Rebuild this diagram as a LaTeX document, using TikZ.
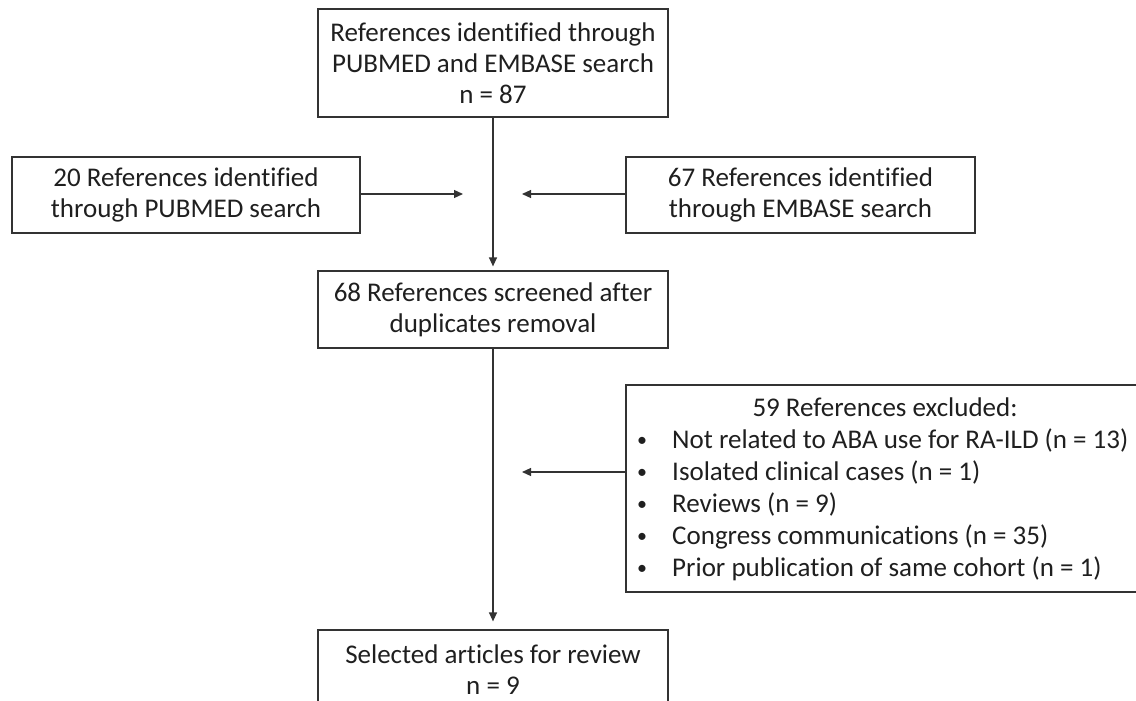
\documentclass[tikz,border=0pt]{standalone}
\usepackage{fontspec}
\setmainfont{Carlito}[Ligatures=NoCommon]
\usetikzlibrary{arrows.meta}
\definecolor{linec}{gray}{0.2}
\definecolor{textc}{gray}{0.12}
\tikzset{
  box/.style={draw=linec, line width=1.2pt, align=center, text=textc, inner sep=0pt,
    font=\fontsize{27}{31}\selectfont},
  arr/.style={draw=linec, line width=1.2pt, -{Triangle[length=9pt,width=8pt]}},
  txt/.style={text=textc, inner sep=0pt, anchor=base west, font=\fontsize{27}{31}\selectfont},
  bul/.style={text=textc, inner sep=0pt, anchor=base, font=\fontsize{20}{20}\selectfont},
}
\begin{document}
\begin{tikzpicture}[x=1pt,y=-1pt]
\useasboundingbox (0,0) rectangle (1136,701);
\clip (0,0) rectangle (1136,701);
\node[box, minimum width=350pt, minimum height=108pt] (top) at (493,63)
  {References identified through\\PUBMED and EMBASE search\\n = 87};
\node[box, minimum width=348pt, minimum height=76pt] (left) at (186,195)
  {20 References identified\\through PUBMED search};
\node[box, minimum width=349pt, minimum height=76pt] (right) at (800.5,195)
  {67 References identified\\through EMBASE search};
\node[box, minimum width=350pt, minimum height=77pt] (mid) at (493,309.5)
  {68 References screened after\\duplicates removal};
\node[box, minimum width=350pt, minimum height=80pt] (bot) at (493,670)
  {Selected articles for review\\n = 9};
\node[box, minimum width=524pt, minimum height=207pt] (excl) at (888,488.5) {};
\node[txt, anchor=base] (exT) at (885,416) {59 References excluded:};
\node[bul] (b1) at (642,446) {•};
\node[txt] (e1) at (672,448) {Not related to ABA use for RA-ILD (n = 13)};
\node[bul] (b2) at (642,478) {•};
\node[txt] (e2) at (672,480) {Isolated clinical cases (n = 1)};
\node[bul] (b3) at (642,510) {•};
\node[txt] (e3) at (672,512) {Reviews (n = 9)};
\node[bul] (b4) at (642,542) {•};
\node[txt] (e4) at (672,544) {Congress communications (n = 35)};
\node[bul] (b5) at (642,574) {•};
\node[txt] (e5) at (672,576) {Prior publication of same cohort (n = 1)};
\coordinate (jl) at (463,194);
\coordinate (jr) at (522,194);
\coordinate (jx) at (522,472);
\draw[arr, shorten >=4pt] (top.south) -- (mid.north);
\draw[arr] (left.east |- jl) -- (jl);
\draw[arr] (right.west |- jr) -- (jr);
\draw[arr, shorten >=8pt] (mid.south) -- (bot.north);
\draw[arr] (excl.west |- jx) -- (jx);
\end{tikzpicture}
\end{document}
